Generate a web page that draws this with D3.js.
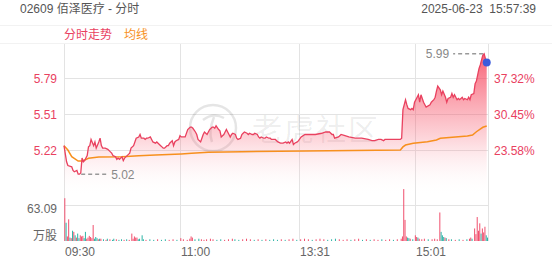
<!DOCTYPE html>
<html>
<head>
<meta charset="utf-8">
<script src="https://cdn.jsdelivr.net/npm/d3@7"></script>
<style>
body { margin: 0; background: #fff; }
text { font-family: "Liberation Sans", Arial, "Noto Sans CJK SC", sans-serif; }
</style>
</head>
<body>
<div id="chart"></div>
<script>
// header
var title = "02609 佰泽医疗 - 分时";
var stamp = "2025-06-23  15:57:39";
var legendNames = ["分时走势", "均线"];

// axes
var prevClose = 4.22;
var pctTicks = [23.58, 30.45, 37.32];
var priceTickLabels = ["5.22", "5.51", "5.79"];
var volTick = 63.09;
var volUnit = "万股";
var timeLabels = ["09:30", "11:00", "13:31", "15:01"];
var timeSlots = [0, 90, 182, 272];
var lastSlot = 329;

// [minute slot, price]
var pricePts = [[0,5.25],[2,5.12],[3,5.09],[6,5.08],[7,5.05],[8,5.04],[10,5.05],[11,5.02],[12,5.02],[13,5.03],
	[14,5.15],[15,5.12],[16,5.13],[18,5.17],[19,5.24],[20,5.25],[21,5.30],[23,5.25],[24,5.28],[25,5.23],
	[27,5.28],[28,5.31],[29,5.25],[30,5.23],[32,5.23],[34,5.22],[36,5.20],[37,5.19],[38,5.17],[40,5.16],
	[41,5.14],[42,5.15],[43,5.14],[45,5.16],[46,5.13],[47,5.15],[49,5.17],[51,5.19],[52,5.23],[54,5.25],
	[55,5.28],[56,5.31],[58,5.32],[59,5.34],[60,5.31],[62,5.31],[63,5.30],[64,5.31],[65,5.31],[67,5.32],
	[68,5.30],[69,5.28],[71,5.27],[72,5.28],[73,5.27],[75,5.25],[76,5.24],[77,5.23],[78,5.23],[80,5.25],
	[81,5.25],[82,5.27],[84,5.29],[85,5.25],[86,5.28],[87,5.29],[89,5.30],[90,5.33],[91,5.32],[94,5.32],
	[96,5.38],[98,5.40],[99,5.40],[100,5.39],[102,5.36],[103,5.34],[104,5.30],[106,5.28],[107,5.31],[108,5.34],
	[109,5.36],[111,5.34],[112,5.36],[113,5.38],[115,5.40],[116,5.40],[117,5.39],[118,5.41],[120,5.38],[121,5.37],
	[122,5.32],[124,5.34],[125,5.36],[126,5.38],[128,5.34],[129,5.32],[130,5.34],[131,5.35],[133,5.34],[134,5.31],
	[135,5.30],[137,5.31],[138,5.34],[139,5.35],[140,5.36],[142,5.35],[143,5.34],[144,5.35],[146,5.34],[147,5.34],
	[148,5.35],[150,5.34],[151,5.32],[152,5.31],[153,5.32],[155,5.31],[156,5.31],[157,5.32],[159,5.31],[160,5.31],
	[161,5.30],[162,5.30],[164,5.30],[165,5.29],[166,5.28],[168,5.27],[169,5.27],[170,5.27],[172,5.28],[173,5.27],
	[174,5.28],[175,5.27],[177,5.30],[178,5.26],[179,5.27],[181,5.28],[182,5.29],[184,5.32],[187,5.34],[190,5.34],
	[195,5.34],[200,5.35],[203,5.36],[205,5.36],[206,5.36],[208,5.34],[209,5.34],[210,5.31],[213,5.32],[215,5.34],
	[218,5.33],[221,5.32],[226,5.31],[231,5.31],[236,5.30],[239,5.29],[241,5.29],[244,5.30],[246,5.30],[248,5.29],
	[249,5.30],[254,5.30],[259,5.30],[261,5.30],[262,5.31],[263,5.54],[265,5.62],[266,5.58],[267,5.55],[269,5.54],
	[270,5.55],[271,5.54],[272,5.60],[274,5.64],[275,5.66],[276,5.60],[277,5.66],[278,5.63],[279,5.60],[280,5.58],
	[281,5.56],[284,5.58],[285,5.60],[287,5.62],[288,5.64],[289,5.69],[290,5.73],[292,5.70],[293,5.66],[294,5.69],
	[296,5.64],[297,5.60],[298,5.63],[300,5.64],[301,5.67],[302,5.64],[303,5.66],[305,5.62],[306,5.63],[307,5.62],
	[309,5.64],[310,5.62],[311,5.63],[313,5.62],[314,5.64],[315,5.62],[316,5.66],[318,5.67],[319,5.75],[320,5.77],
	[321,5.82],[322,5.87],[323,5.90],[324,5.94],[325,5.98],[326,5.99],[327,5.95],[328,5.92]];

// [minute slot, average price]
var avgPts = [[0,5.25],[3,5.215],[6,5.161],[11,5.126],[14,5.126],[16,5.134],[19,5.148],[27,5.159],[45,5.161],
	[58,5.169],[71,5.175],[91,5.183],[99,5.188],[112,5.196],[138,5.201],[187,5.207],[261,5.215],[263,5.24],
	[265,5.255],[271,5.269],[282,5.282],[289,5.296],[292,5.309],[313,5.328],[317,5.336],[320,5.362],[325,5.398],[328,5.408]];

// [minute slot, volume (万股), u = up / d = down]
var volPts = [[0,75,"u"],[1,32,"d"],[2,8,"u"],[3,38,"u"],[4,6,"d"],[5,5,"u"],[6,18,"d"],[7,16,"u"],[8,10,"d"],[9,6,"u"],
	[10,13,"d"],[11,5,"d"],[12,10,"u"],[13,8,"u"],[14,9,"u"],[15,5,"d"],[16,16,"d"],[17,4,"u"],[18,6,"u"],[19,9,"u"],
	[20,7,"u"],[21,5,"u"],[22,28,"u"],[23,4,"d"],[24,7,"d"],[25,5,"d"],[26,3,"u"],[27,4,"d"],[28,4,"u"],[30,3,"d"],
	[32,2,"u"],[33,4,"d"],[35,3,"u"],[37,2,"d"],[38,4,"d"],[40,3,"u"],[42,2,"d"],[44,3,"d"],[46,2,"u"],[48,3,"d"],
	[50,2,"u"],[52,13,"u"],[53,4,"u"],[54,8,"u"],[55,6,"u"],[56,6,"u"],[57,3,"d"],[58,4,"d"],[60,10,"d"],[61,3,"d"],
	[63,2,"u"],[66,3,"d"],[69,2,"d"],[72,3,"u"],[75,2,"d"],[78,3,"d"],[81,2,"u"],[84,3,"u"],[87,2,"d"],[90,5,"u"],
	[92,3,"u"],[95,2,"u"],[97,4,"u"],[98,8,"u"],[99,6,"u"],[101,3,"d"],[104,4,"d"],[106,3,"u"],[108,2,"u"],[110,3,"u"],
	[113,4,"u"],[115,3,"u"],[118,2,"d"],[121,3,"d"],[124,2,"u"],[127,3,"u"],[130,4,"u"],[132,3,"d"],[135,2,"d"],[138,3,"u"],
	[141,4,"u"],[144,3,"u"],[147,2,"d"],[150,3,"u"],[153,2,"d"],[156,3,"u"],[159,2,"d"],[162,3,"d"],[165,2,"d"],[168,3,"u"],
	[171,2,"d"],[174,3,"u"],[177,4,"u"],[180,2,"d"],[183,3,"u"],[186,4,"u"],[189,3,"u"],[192,2,"d"],[195,3,"u"],[198,4,"u"],
	[201,3,"u"],[204,2,"d"],[207,3,"d"],[210,4,"d"],[213,3,"u"],[216,2,"u"],[219,3,"u"],[222,2,"d"],[225,3,"u"],[228,4,"u"],
	[231,2,"d"],[234,3,"u"],[237,2,"d"],[240,3,"u"],[243,2,"u"],[246,3,"d"],[249,2,"u"],[252,3,"u"],[255,2,"d"],[258,3,"u"],
	[261,4,"u"],[262,8,"u"],[263,91,"u"],[264,37,"u"],[265,8,"u"],[266,6,"d"],[267,5,"d"],[268,4,"u"],[270,3,"d"],[272,10,"u"],
	[273,7,"u"],[274,6,"d"],[275,4,"u"],[277,3,"u"],[279,4,"u"],[282,3,"d"],[285,3,"u"],[287,4,"u"],[289,3,"u"],[291,50,"u"],
	[292,16,"d"],[293,10,"d"],[294,7,"d"],[295,6,"u"],[296,5,"d"],[298,3,"u"],[300,3,"d"],[303,2,"u"],[306,3,"d"],[309,2,"u"],
	[312,3,"d"],[314,4,"u"],[315,6,"u"],[316,4,"d"],[318,22,"u"],[319,12,"u"],[320,42,"u"],[321,18,"u"],[322,31,"u"],[323,13,"d"],
	[324,22,"u"],[325,15,"u"],[326,25,"u"],[327,10,"d"],[328,6,"d"]];

var w = 552, h = 265;
var left = 64, right = 488;
var plotTop = 44, priceBottom = 196, volTop = 205, volBottom = 241;

var red = "#e9415f";
var orange = "#f7901e";
var teal = "#2db4a6";
var grid = "#e3e3e3";

var x = d3.scaleLinear().domain([0, lastSlot]).range([left, right]);
var toPrice = p => prevClose * (1 + p / 100);
var y = d3.scaleLinear().domain([toPrice(pctTicks[0]), toPrice(pctTicks[2])]).range([150, 78]);
var yv = d3.scaleLinear().domain([0, volTick]).range([volBottom, volTop]);

var svg = d3.select("#chart").append("svg")
	.attr("width", w)
	.attr("height", h);

var defs = svg.append("defs");
var grad = defs.append("linearGradient")
	.attr("id", "fillGrad")
	.attr("gradientUnits", "userSpaceOnUse")
	.attr("x1", 0).attr("y1", 54)
	.attr("x2", 0).attr("y2", priceBottom);
grad.append("stop").attr("offset", 0).attr("stop-color", "#f5364f").attr("stop-opacity", 0.78);
grad.append("stop").attr("offset", 0.6).attr("stop-color", "#f7566b").attr("stop-opacity", 0.24);
grad.append("stop").attr("offset", 1).attr("stop-color", "#fff").attr("stop-opacity", 0);

// header
svg.append("text")
	.attr("x", 20).attr("y", 13)
	.style("font-size", "12px")
	.attr("fill", "#555")
	.text(title);

svg.append("text")
	.attr("x", 536).attr("y", 13)
	.attr("text-anchor", "end")
	.style("font-size", "12px")
	.style("white-space", "pre")
	.attr("fill", "#555")
	.text(stamp);

svg.append("line").attr("x1", 0).attr("x2", w).attr("y1", 25.5).attr("y2", 25.5).attr("stroke", "#f2f2f2");
svg.append("line").attr("x1", 0).attr("x2", w).attr("y1", 43.5).attr("y2", 43.5).attr("stroke", "#f2f2f2");

svg.append("text")
	.attr("x", 64).attr("y", 39)
	.style("font-size", "12px")
	.attr("fill", red)
	.text(legendNames[0]);
svg.append("text")
	.attr("x", 124).attr("y", 39)
	.style("font-size", "12px")
	.attr("fill", orange)
	.text(legendNames[1]);

// grid
var vLines = [0].concat(timeSlots.slice(1)).concat([lastSlot]);
svg.selectAll("line.vgrid")
	.data(vLines)
	.enter()
	.append("line")
	.attr("class", "vgrid")
	.attr("x1", d => Math.round(x(d)) + 0.5)
	.attr("x2", d => Math.round(x(d)) + 0.5)
	.attr("y1", plotTop)
	.attr("y2", volBottom)
	.attr("stroke", grid);

svg.selectAll("line.hgrid")
	.data(pctTicks)
	.enter()
	.append("line")
	.attr("class", "hgrid")
	.attr("x1", left).attr("x2", right)
	.attr("y1", d => Math.round(y(toPrice(d))) + 0.5)
	.attr("y2", d => Math.round(y(toPrice(d))) + 0.5)
	.attr("stroke", grid);

svg.append("line")
	.attr("x1", left).attr("x2", right)
	.attr("y1", Math.round(yv(volTick)) + 0.5)
	.attr("y2", Math.round(yv(volTick)) + 0.5)
	.attr("stroke", grid);

// price labels
svg.selectAll("text.pl")
	.data(pctTicks)
	.enter()
	.append("text")
	.attr("class", "pl")
	.attr("x", 57)
	.attr("y", d => y(toPrice(d)) + 4.5)
	.attr("text-anchor", "end")
	.style("font-size", "12px")
	.attr("fill", red)
	.text((d, i) => priceTickLabels[i]);

svg.selectAll("text.pr")
	.data(pctTicks)
	.enter()
	.append("text")
	.attr("class", "pr")
	.attr("x", 494)
	.attr("y", d => y(toPrice(d)) + 4.5)
	.style("font-size", "12px")
	.attr("fill", red)
	.text(d => d.toFixed(2) + "%");

// watermark
svg.append("circle")
	.attr("cx", 213).attr("cy", 128).attr("r", 23)
	.attr("fill", "none")
	.attr("stroke", "#000")
	.attr("stroke-opacity", 0.1)
	.attr("stroke-width", 2.5);
svg.append("path")
	.attr("d", "M203,120 Q213,112 224,118 M214,117 Q208,132 212,142")
	.attr("fill", "none")
	.attr("stroke", "#000")
	.attr("stroke-opacity", 0.1)
	.attr("stroke-width", 2.5);
svg.append("text")
	.attr("x", 252).attr("y", 140)
	.style("font-size", "30px")
	.style("letter-spacing", "2px")
	.attr("fill", "#000")
	.attr("fill-opacity", 0.08)
	.text("老虎社区");

// price area + lines
var area = d3.area()
	.x(d => x(d[0]))
	.y0(priceBottom)
	.y1(d => y(d[1]));

svg.append("path")
	.datum(pricePts)
	.attr("d", area)
	.attr("fill", "url(#fillGrad)");

svg.append("path")
	.datum(avgPts)
	.attr("d", d3.line().x(d => x(d[0])).y(d => y(d[1])))
	.attr("fill", "none")
	.attr("stroke", orange)
	.attr("stroke-width", 1.5);

svg.append("path")
	.datum(pricePts)
	.attr("d", d3.line().x(d => x(d[0])).y(d => y(d[1])))
	.attr("fill", "none")
	.attr("stroke", red)
	.attr("stroke-width", 1.3);

// high / low markers
var hi = pricePts.reduce((a, b) => b[1] > a[1] ? b : a);
var lo = pricePts.reduce((a, b) => b[1] < a[1] ? b : a);

svg.append("line")
	.attr("x1", x(hi[0]) - 1).attr("x2", x(hi[0]) - 31)
	.attr("y1", y(hi[1])).attr("y2", y(hi[1]))
	.attr("stroke", "#999")
	.attr("stroke-width", 1.5)
	.attr("stroke-dasharray", "4,3");
svg.append("text")
	.attr("x", x(hi[0]) - 35).attr("y", y(hi[1]) + 4)
	.attr("text-anchor", "end")
	.style("font-size", "12px")
	.attr("fill", "#888")
	.text(hi[1].toFixed(2));

svg.append("line")
	.attr("x1", x(lo[0]) + 3).attr("x2", x(lo[0]) + 29)
	.attr("y1", y(lo[1])).attr("y2", y(lo[1]))
	.attr("stroke", "#999")
	.attr("stroke-width", 1.5)
	.attr("stroke-dasharray", "4,3");
svg.append("text")
	.attr("x", x(lo[0]) + 33).attr("y", y(lo[1]) + 4.5)
	.style("font-size", "12px")
	.attr("fill", "#888")
	.text(lo[1].toFixed(2));

var last = pricePts[pricePts.length - 1];
svg.append("circle")
	.attr("cx", x(last[0])).attr("cy", y(last[1]))
	.attr("r", 4)
	.attr("fill", "#3b5bdb");

// volume
svg.selectAll("rect.vol")
	.data(volPts)
	.enter()
	.append("rect")
	.attr("class", "vol")
	.attr("x", d => x(d[0]) + 0.3)
	.attr("width", 1)
	.attr("y", d => yv(d[1]))
	.attr("height", d => volBottom - yv(d[1]))
	.attr("fill", d => d[2] === "u" ? "#f0506e" : teal);

svg.append("text")
	.attr("x", 57).attr("y", yv(volTick) + 7.5)
	.attr("text-anchor", "end")
	.style("font-size", "12px")
	.attr("fill", "#666")
	.text(volTick.toFixed(2));
svg.append("text")
	.attr("x", 57).attr("y", 239.5)
	.attr("text-anchor", "end")
	.style("font-size", "12px")
	.attr("fill", "#666")
	.text(volUnit);

// time labels
svg.selectAll("text.tl")
	.data(timeSlots)
	.enter()
	.append("text")
	.attr("class", "tl")
	.attr("x", d => Math.round(x(d)) + 1)
	.attr("y", 256)
	.style("font-size", "12px")
	.attr("fill", "#666")
	.text((d, i) => timeLabels[i]);
</script>
</body>
</html>
